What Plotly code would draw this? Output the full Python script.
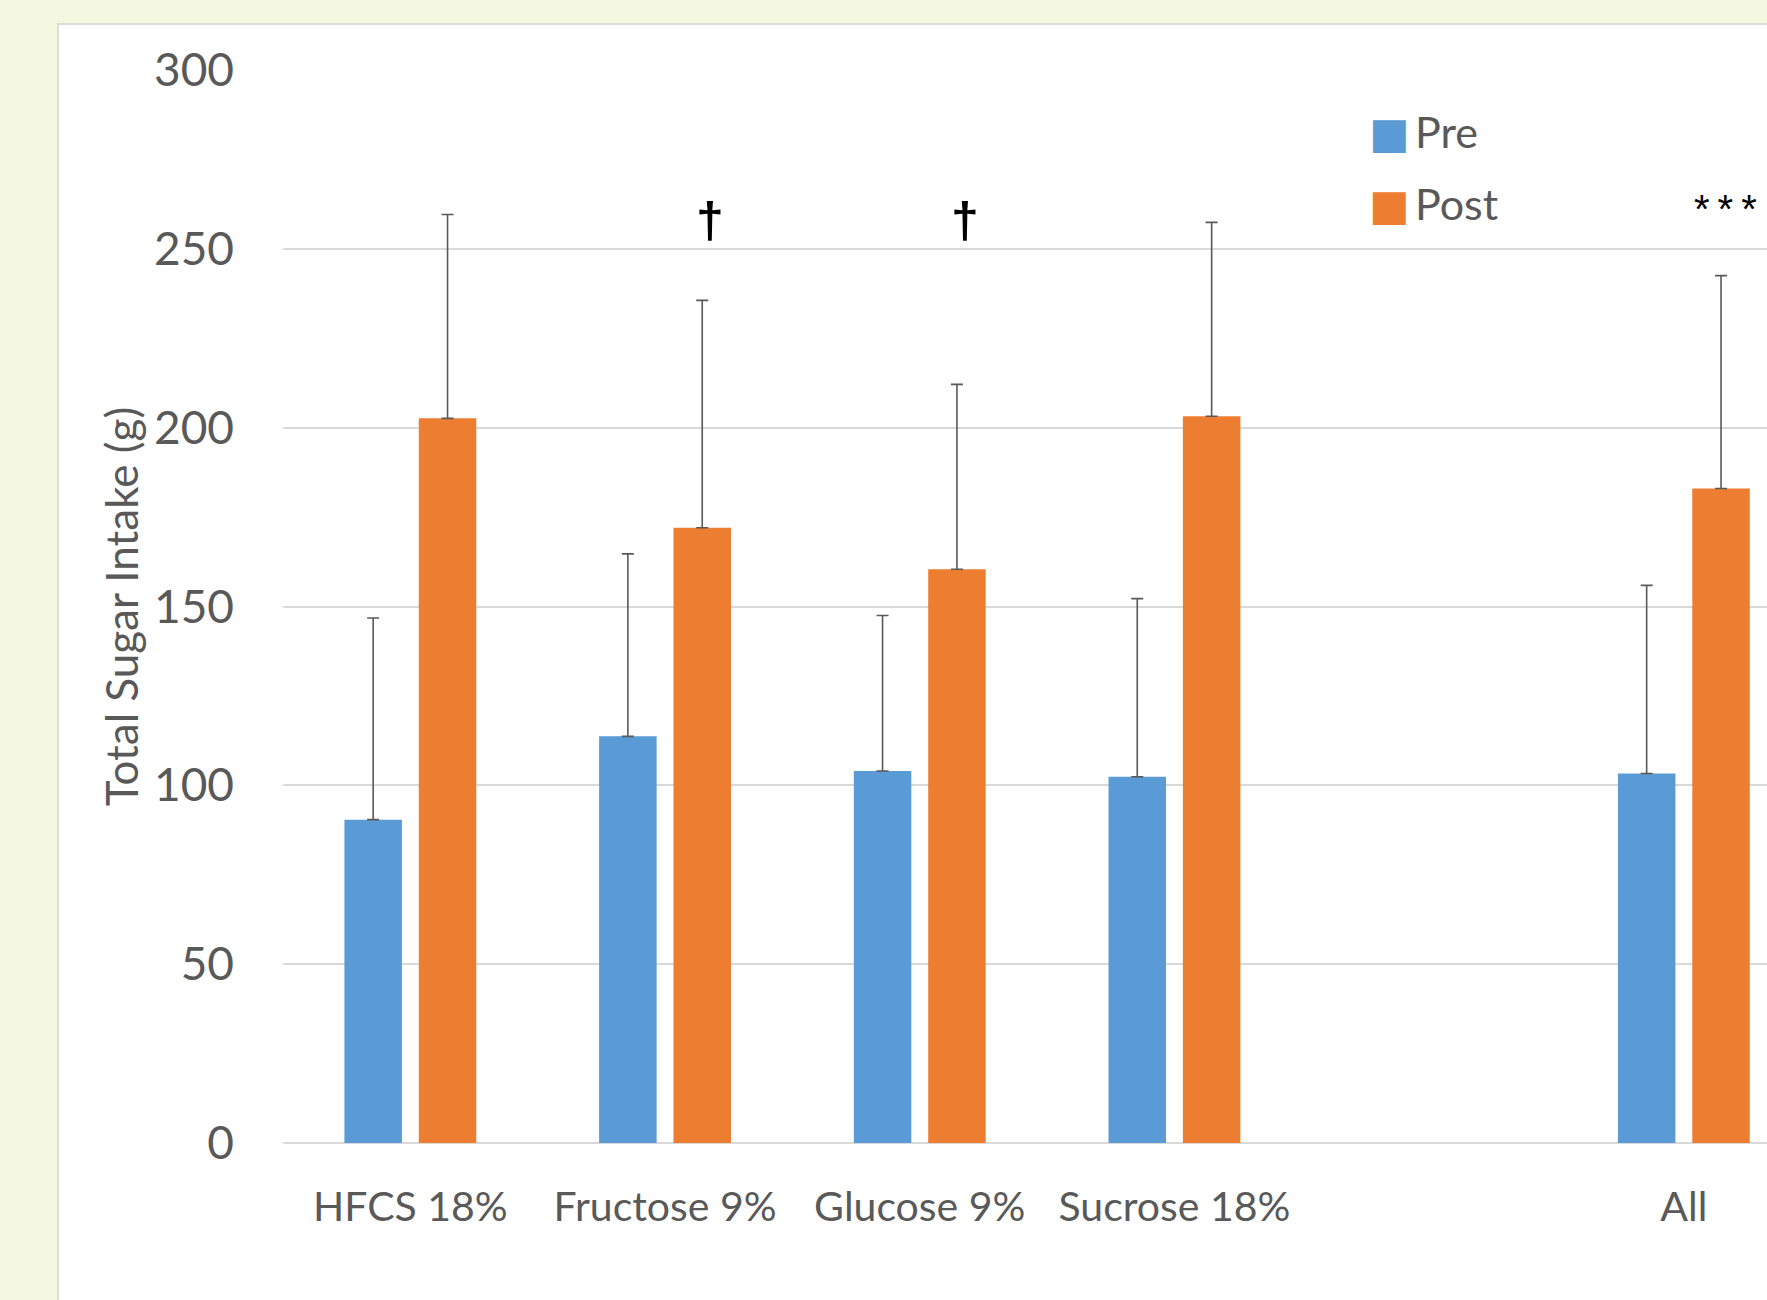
import plotly.graph_objects as go

# ---- data ----
categories = ["HFCS 18%", "Fructose 9%", "Glucose 9%", "Sucrose 18%", " ", "All"]
pre_values = [90.4, 113.7, 104.0, 102.4, None, 103.3]
pre_errors = [56.4, 51.0, 43.5, 49.8, None, 52.6]
post_values = [202.6, 172.0, 160.4, 203.2, None, 183.0]
post_errors = [57.0, 63.6, 51.7, 54.2, None, 59.5]
series_names = ["Pre", "Post"]
series_colors = ["#5B9BD5", "#ED7D31"]
y_ticks = [0, 50, 100, 150, 200, 250, 300]
y_title = "Total Sugar Intake (g)"
marks = [("Fructose 9%", "\u2020", 258), ("Glucose 9%", "\u2020", 258), ("All", "*\u2009*\u2009*", 261)]

W, H = 1767, 1300
L, R, T, B = 283, 0, 70, 157
FONT = "Lato, 'Open Sans', sans-serif"
TXT = "#595959"

fig = go.Figure()
for name, vals, errs, col in [
    (series_names[0], pre_values, pre_errors, series_colors[0]),
    (series_names[1], post_values, post_errors, series_colors[1]),
]:
    fig.add_trace(go.Bar(
        name=name, x=categories, y=vals, marker_color=col, marker_line_width=0,
        error_y=dict(type="data", array=errs, arrayminus=[0] * len(errs), symmetric=False,
                     color="#595959", thickness=1.6, width=6),
        showlegend=False,
    ))

pw = W - L - R
ph = H - T - B

def px2paper_x(px):
    return (px - L) / pw

def px2paper_y(py):
    return (H - B - py) / ph

shapes = [dict(type="rect", xref="paper", yref="paper",
               x0=px2paper_x(58), x1=1.1, y0=-0.3, y1=px2paper_y(24),
               fillcolor="white", line=dict(color="#DCDCDC", width=2), layer="below")]

annotations = []
for cat, txt, yv in marks:
    star = "*" in txt
    annotations.append(dict(x=cat, y=yv, xref="x", yref="y",
                            text=txt if star else f"<b>{txt}</b>",
                            showarrow=False, xshift=42 if star else 45,
                            font=dict(family="Liberation Sans, Arial, sans-serif",
                                      size=40 if star else 50, color="black")))

# legend as text annotations
for i, (name, col) in enumerate(zip(series_names, series_colors)):
    annotations.append(dict(
        xref="paper", yref="paper", x=px2paper_x(1367), y=px2paper_y(132 + 72 * i),
        xanchor="left", yanchor="middle", showarrow=False,
        text=f"<span style='color:{col};font-family:DejaVu Sans'>\u25A0</span>\u2009{name}",
        font=dict(family=FONT, size=43, color=TXT)))

fig.update_layout(
    width=W, height=H,
    margin=dict(l=L, r=R, t=T, b=B, pad=0),
    paper_bgcolor="#F5F8E1", plot_bgcolor="white",
    barmode="group", bargap=0.416, bargroupgap=0.227,
    font=dict(family=FONT, size=40, color=TXT),
    shapes=shapes, annotations=annotations,
    xaxis=dict(categoryorder="array", categoryarray=categories,
               range=[-0.5, -0.5 + pw / 254.7], showgrid=False, zeroline=False,
               showline=False, ticks="", tickfont=dict(size=41, color=TXT),
               ticklabelstandoff=36, automargin=False),
    yaxis=dict(range=[0, 300], tickvals=y_ticks, showgrid=True, gridcolor="#D9D9D9",
               gridwidth=2, zeroline=True, zerolinecolor="#D9D9D9", zerolinewidth=2,
               showline=False, ticks="", tickfont=dict(size=46, color=TXT),
               ticklabelstandoff=48, automargin=False,
               title=dict(text=y_title, font=dict(size=44, color=TXT), standoff=1)),
)

fig.write_html("out.html", config={"displayModeBar": False},
               post_script="document.body.style.margin='0';")
